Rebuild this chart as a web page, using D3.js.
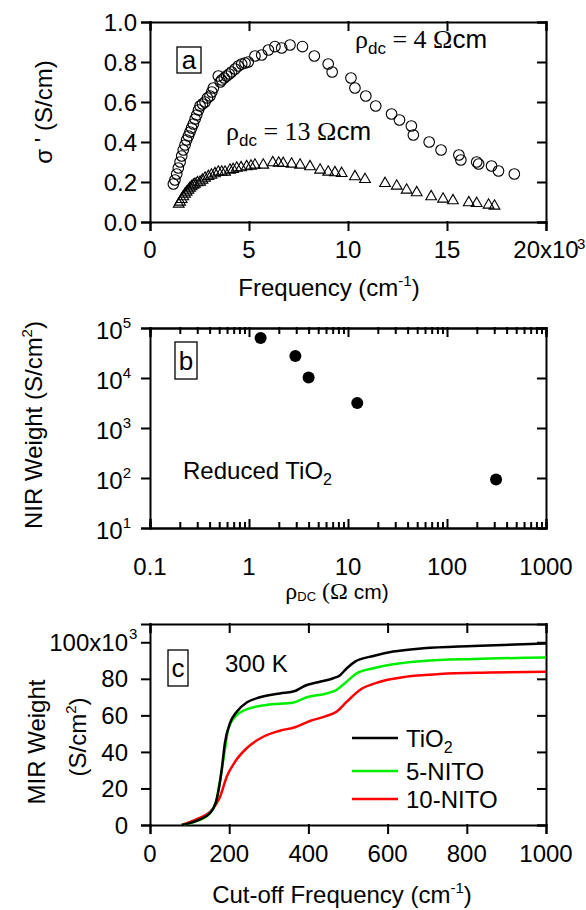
<!DOCTYPE html>
<html>
<head>
<meta charset="utf-8">
<script src="https://d3js.org/d3.v7.min.js"></script>
<style>
  body { margin: 0; background: #fff; }
  svg { font-family: "Liberation Sans", Arial, sans-serif; }
  .axis path, .axis line { stroke: #000; stroke-width: 2; stroke-linecap: square; }
</style>
</head>
<body>
<script>
// ---- panel a: optical conductivity, frequency in 10^3 cm-1 ----
var rho4Freq = [1.18,1.26,1.35,1.43,1.52,1.6,1.68,1.77,1.85,1.94,2.02,2.1,2.19,2.28,2.36,2.45,2.53,2.65,2.78,2.9,3.03,3.12,3.2,3.45,3.55,3.62,3.75,3.87,4.0,4.12,4.3,4.46,4.63,4.8,4.96,5.3,5.64,5.98,6.31,6.65,7.07,7.7,8.3,9.0,9.2,10.15,10.35,10.9,11.4,12.2,12.6,13.2,13.3,14.1,14.7,15.6,15.7,16.5,16.6,17.25,17.6,18.4];
var rho4Sigma = [0.19,0.21,0.24,0.27,0.30,0.33,0.36,0.385,0.41,0.43,0.45,0.47,0.49,0.515,0.535,0.56,0.58,0.59,0.60,0.62,0.63,0.65,0.67,0.73,0.70,0.71,0.72,0.73,0.74,0.75,0.765,0.78,0.79,0.795,0.80,0.83,0.835,0.86,0.877,0.87,0.885,0.877,0.83,0.79,0.75,0.72,0.67,0.63,0.58,0.54,0.51,0.48,0.435,0.40,0.36,0.335,0.31,0.30,0.29,0.28,0.255,0.24];
var rho13Freq = [1.45,1.52,1.6,1.68,1.77,1.85,1.94,2.02,2.1,2.19,2.27,2.4,2.53,2.65,2.78,2.95,3.1,3.28,3.45,3.62,3.79,4.04,4.2,4.38,4.6,4.88,5.1,5.3,5.72,6.2,6.5,6.73,7.15,7.58,8.08,8.59,9.0,9.34,9.68,10.35,10.86,11.87,12.46,12.96,13.47,14.2,14.8,15.3,16.1,16.5,17.1,17.4];
var rho13Sigma = [0.09,0.10,0.113,0.127,0.14,0.15,0.16,0.17,0.177,0.185,0.19,0.197,0.20,0.21,0.22,0.228,0.235,0.242,0.25,0.25,0.25,0.26,0.263,0.27,0.272,0.277,0.28,0.285,0.285,0.297,0.295,0.293,0.29,0.285,0.277,0.26,0.25,0.247,0.243,0.227,0.213,0.193,0.18,0.16,0.147,0.127,0.115,0.107,0.097,0.093,0.085,0.08];
var aXTicks = [0, 5, 10, 15, 20];
var aYTicks = [0, 0.2, 0.4, 0.6, 0.8, 1.0];

// ---- panel b: NIR weight vs dc resistivity ----
var rhoDC = [1.31, 2.94, 4.0, 12.4, 313];
var nirWeight = [63000, 27500, 10200, 3160, 93];
var bXTicks = [0.1, 1, 10, 100, 1000];
var bYExp = [1, 2, 3, 4, 5];

// ---- panel c: MIR weight vs cut-off frequency (weights in 10^3 S/cm2) ----
var tioCut = [80,122,151,168,181,189,202,219,244,278,328,366,379,396,429,463,480,497,518,564,614,690,816,1000];
var tioW   = [0,2.7,6.4,13.7,30,44.7,55.7,62,67,69.9,72,73.3,74.8,76.6,78.4,80.3,82,85.8,89.4,92.5,94.9,96.7,98,99.4];
var nito5Cut = [80,122,151,168,181,189,198,215,244,295,362,396,446,471,492,522,564,614,690,816,1000];
var nito5W   = [0,2.5,6.5,14,30,41,52.9,59.3,63.3,65.7,67,69.9,72,73.9,77.6,83,85.8,88,89.8,90.9,91.6];
var nito10Cut = [80,122,156,177,194,215,244,286,328,366,404,446,471,497,530,581,648,732,859,1000];
var nito10W   = [0,3.6,8.2,15.5,26.5,34.7,42,48.3,51.6,53.5,56.9,59.7,62,67.5,73.9,78.4,81.2,82.6,83.4,83.9];
var cXTicks = [0, 200, 400, 600, 800, 1000];
var cYTicks = [0, 20, 40, 60, 80, 100];
var cSeries = [
  {name: "TiO", sub: "2", color: "#000000", x: tioCut, y: tioW},
  {name: "5-NITO", sub: "", color: "#00ee00", x: nito5Cut, y: nito5W},
  {name: "10-NITO", sub: "", color: "#ff0000", x: nito10Cut, y: nito10W}
];

var svg = d3.select("body").append("svg").attr("width", 586).attr("height", 910);
var FS = 24;
var SERIF = "'Liberation Serif', 'DejaVu Serif', serif";

// frame with mirrored ticks on top and right
function frame(x, y, cfg) {
  var x0 = x.range()[0], x1 = x.range()[1], y0 = y.range()[0], y1 = y.range()[1];
  svg.append("g").attr("class", "axis").attr("transform", "translate(0," + y0 + ")")
    .call(d3.axisBottom(x).tickValues(cfg.xTicks).tickSizeOuter(0).tickFormat("").tickSize(cfg.xOut ? 8 : -8));
  svg.append("g").attr("class", "axis").attr("transform", "translate(0," + y1 + ")")
    .call(d3.axisBottom(x).tickValues(cfg.xTicks).tickSizeOuter(0).tickFormat("").tickSize(8));
  if (cfg.xMinor) {
    svg.append("g").attr("class", "axis").attr("transform", "translate(0," + y0 + ")")
      .call(d3.axisBottom(x).tickValues(cfg.xMinor).tickSizeOuter(0).tickFormat("").tickSize(-5));
    svg.append("g").attr("class", "axis").attr("transform", "translate(0," + y1 + ")")
      .call(d3.axisBottom(x).tickValues(cfg.xMinor).tickSizeOuter(0).tickFormat("").tickSize(5));
  }
  svg.append("g").attr("class", "axis").attr("transform", "translate(" + x0 + ",0)")
    .call(d3.axisLeft(y).tickValues(cfg.yTicks).tickSizeOuter(0).tickFormat("").tickSize(8));
  svg.append("g").attr("class", "axis").attr("transform", "translate(" + x1 + ",0)")
    .call(d3.axisLeft(y).tickValues(cfg.yTicks).tickSizeOuter(0).tickFormat("").tickSize(8));
}

function labelBox(x, y, w, h, letter) {
  svg.append("rect").attr("x", x).attr("y", y).attr("width", w).attr("height", h)
    .attr("fill", "none").attr("stroke", "#000").attr("stroke-width", 1.3);
  svg.append("text").attr("x", x + w / 2).attr("y", y + h / 2).attr("dy", "0.36em")
    .attr("text-anchor", "middle").attr("font-size", 26).text(letter);
}

// ================= panel a =================
var xa = d3.scaleLinear().domain([0, 20]).range([150, 546]);
var ya = d3.scaleLinear().domain([0, 1]).range([222, 22]);
frame(xa, ya, {xTicks: aXTicks, yTicks: aYTicks, xOut: true});

svg.append("g").selectAll("text").data(aYTicks).enter().append("text")
  .attr("x", 137).attr("y", function(d) { return ya(d); }).attr("dy", "0.36em")
  .attr("text-anchor", "end").attr("font-size", FS).text(d3.format(".1f"));
svg.append("g").selectAll("text").data(aXTicks).enter().append("text")
  .attr("x", function(d) { return xa(d); }).attr("y", 258)
  .attr("text-anchor", "middle").attr("font-size", FS)
  .text(function(d) { return d === 20 ? "20x10" : d; });
svg.append("text").attr("x", xa(20) + 31).attr("y", 249).attr("font-size", 15).text("3");

svg.append("g").selectAll("circle").data(rho4Freq).enter().append("circle")
  .attr("cx", function(d) { return xa(d); })
  .attr("cy", function(d, i) { return ya(rho4Sigma[i]); })
  .attr("r", 5.3).attr("fill", "none").attr("stroke", "#000").attr("stroke-width", 1.1);
var tri = d3.symbol().type(d3.symbolTriangle).size(50);
svg.append("g").selectAll("path").data(rho13Freq).enter().append("path")
  .attr("d", tri)
  .attr("transform", function(d, i) { return "translate(" + xa(d) + "," + ya(rho13Sigma[i]) + ")"; })
  .attr("fill", "none").attr("stroke", "#000").attr("stroke-width", 1.1);

labelBox(177, 47, 24, 26, "a");

function rhoLabel(x, y, rest) {
  var t = svg.append("text").attr("x", x).attr("y", y).attr("font-size", 26);
  t.append("tspan").attr("font-family", SERIF).text("\u03c1");
  t.append("tspan").attr("font-size", 17).attr("dy", 6).text("dc");
  t.append("tspan").attr("font-family", SERIF).attr("dy", -6).text(" = " + rest + " \u03a9");
  t.append("tspan").text("cm");
}
rhoLabel(355, 48, "4");
rhoLabel(226, 140, "13");

svg.append("text").attr("transform", "translate(52,112) rotate(-90)")
  .attr("text-anchor", "middle").attr("font-size", FS).text("\u03c3 '  (S/cm)");
var fa = svg.append("text").attr("x", 329).attr("y", 296).attr("text-anchor", "middle").attr("font-size", FS);
fa.append("tspan").text("Frequency (cm");
fa.append("tspan").attr("font-size", 15).attr("dy", -10).text("-1");
fa.append("tspan").attr("dy", 10).text(")");

// ================= panel b =================
var xb = d3.scaleLog().domain([0.1, 1000]).range([150, 546]);
var yb = d3.scaleLog().domain([10, 100000]).range([528, 328]);
var bMinor = [];
bXTicks.slice(0, -1).forEach(function(d) { for (var k = 2; k < 10; k++) bMinor.push(d * k); });
frame(xb, yb, {xTicks: bXTicks, yTicks: bYExp.map(function(e) { return Math.pow(10, e); }), xOut: false, xMinor: bMinor});

var byl = svg.append("g").selectAll("text").data(bYExp).enter().append("text")
  .attr("x", 131).attr("y", function(e) { return yb(Math.pow(10, e)); }).attr("dy", "0.45em")
  .attr("text-anchor", "end").attr("font-size", FS);
byl.append("tspan").text("10");
byl.append("tspan").attr("font-size", 15).attr("dy", -11).text(function(e) { return e; });
svg.append("g").selectAll("text").data(bXTicks).enter().append("text")
  .attr("x", function(d) { return xb(d); }).attr("y", 575)
  .attr("text-anchor", "middle").attr("font-size", FS).text(function(d) { return d; });

svg.append("g").selectAll("circle").data(rhoDC).enter().append("circle")
  .attr("cx", function(d) { return xb(d); })
  .attr("cy", function(d, i) { return yb(nirWeight[i]); })
  .attr("r", 6).attr("fill", "#000");

labelBox(175, 342, 22, 37, "b");
var rt = svg.append("text").attr("x", 183).attr("y", 479).attr("font-size", FS);
rt.append("tspan").text("Reduced TiO");
rt.append("tspan").attr("font-size", 16).attr("dy", 6).text("2");

var tb = svg.append("text").attr("transform", "translate(42,425) rotate(-90)")
  .attr("text-anchor", "middle").attr("font-size", FS);
tb.append("tspan").text("NIR Weight (S/cm");
tb.append("tspan").attr("font-size", 15).attr("dy", -10).text("2");
tb.append("tspan").attr("dy", 10).text(")");
var fb = svg.append("text").attr("x", 337).attr("y", 599).attr("text-anchor", "middle").attr("font-size", 21);
fb.append("tspan").attr("font-family", SERIF).attr("font-size", 24).text("\u03c1");
fb.append("tspan").attr("font-size", 13).attr("dy", 2).text("DC");
fb.append("tspan").attr("font-family", SERIF).attr("font-size", 24).attr("dy", -2).text(" (\u03a9");
fb.append("tspan").text(" cm)");

// ================= panel c =================
var xc = d3.scaleLinear().domain([0, 1000]).range([150, 546]);
var yc = d3.scaleLinear().domain([0, 110]).range([825, 624]);
frame(xc, yc, {xTicks: cXTicks, yTicks: cYTicks, xOut: true});

svg.append("g").selectAll("text").data(cYTicks).enter().append("text")
  .attr("x", 128).attr("y", function(d) { return yc(d); }).attr("dy", "0.36em")
  .attr("text-anchor", "end").attr("font-size", FS)
  .text(function(d) { return d === 100 ? "100x10" : d; });
svg.append("text").attr("x", 129).attr("y", yc(100) - 3).attr("font-size", 15).text("3");
svg.append("g").selectAll("text").data(cXTicks).enter().append("text")
  .attr("x", function(d) { return xc(d); }).attr("y", 862)
  .attr("text-anchor", "middle").attr("font-size", FS).text(function(d) { return d; });

var line = d3.line().curve(d3.curveMonotoneX);
cSeries.slice().reverse().forEach(function(s) {
  svg.append("path")
    .attr("d", line(s.x.map(function(v, i) { return [xc(v), yc(s.y[i])]; })))
    .attr("fill", "none").attr("stroke", s.color).attr("stroke-width", 2.5);
});

labelBox(168, 650, 20, 36, "c");
svg.append("text").attr("x", 225).attr("y", 672).attr("font-size", FS).text("300 K");

var legY = [738, 771, 799];
cSeries.forEach(function(s, i) {
  svg.append("line").attr("x1", 352).attr("x2", 398).attr("y1", legY[i]).attr("y2", legY[i])
    .attr("stroke", s.color).attr("stroke-width", 2.5);
  var t = svg.append("text").attr("x", 406).attr("y", legY[i] + 9).attr("font-size", FS);
  t.append("tspan").text(s.name);
  if (s.sub) t.append("tspan").attr("font-size", 16).attr("dy", 6).text(s.sub);
});

svg.append("text").attr("transform", "translate(45,742) rotate(-90)")
  .attr("text-anchor", "middle").attr("font-size", FS).text("MIR Weight");
var tc = svg.append("text").attr("transform", "translate(86,737) rotate(-90)")
  .attr("text-anchor", "middle").attr("font-size", FS);
tc.append("tspan").text("(S/cm");
tc.append("tspan").attr("font-size", 15).attr("dy", -10).text("2");
tc.append("tspan").attr("dy", 10).text(")");
var fc = svg.append("text").attr("x", 342).attr("y", 903).attr("text-anchor", "middle").attr("font-size", FS);
fc.append("tspan").text("Cut-off Frequency (cm");
fc.append("tspan").attr("font-size", 15).attr("dy", -10).text("-1");
fc.append("tspan").attr("dy", 10).text(")");
</script>
</body>
</html>
